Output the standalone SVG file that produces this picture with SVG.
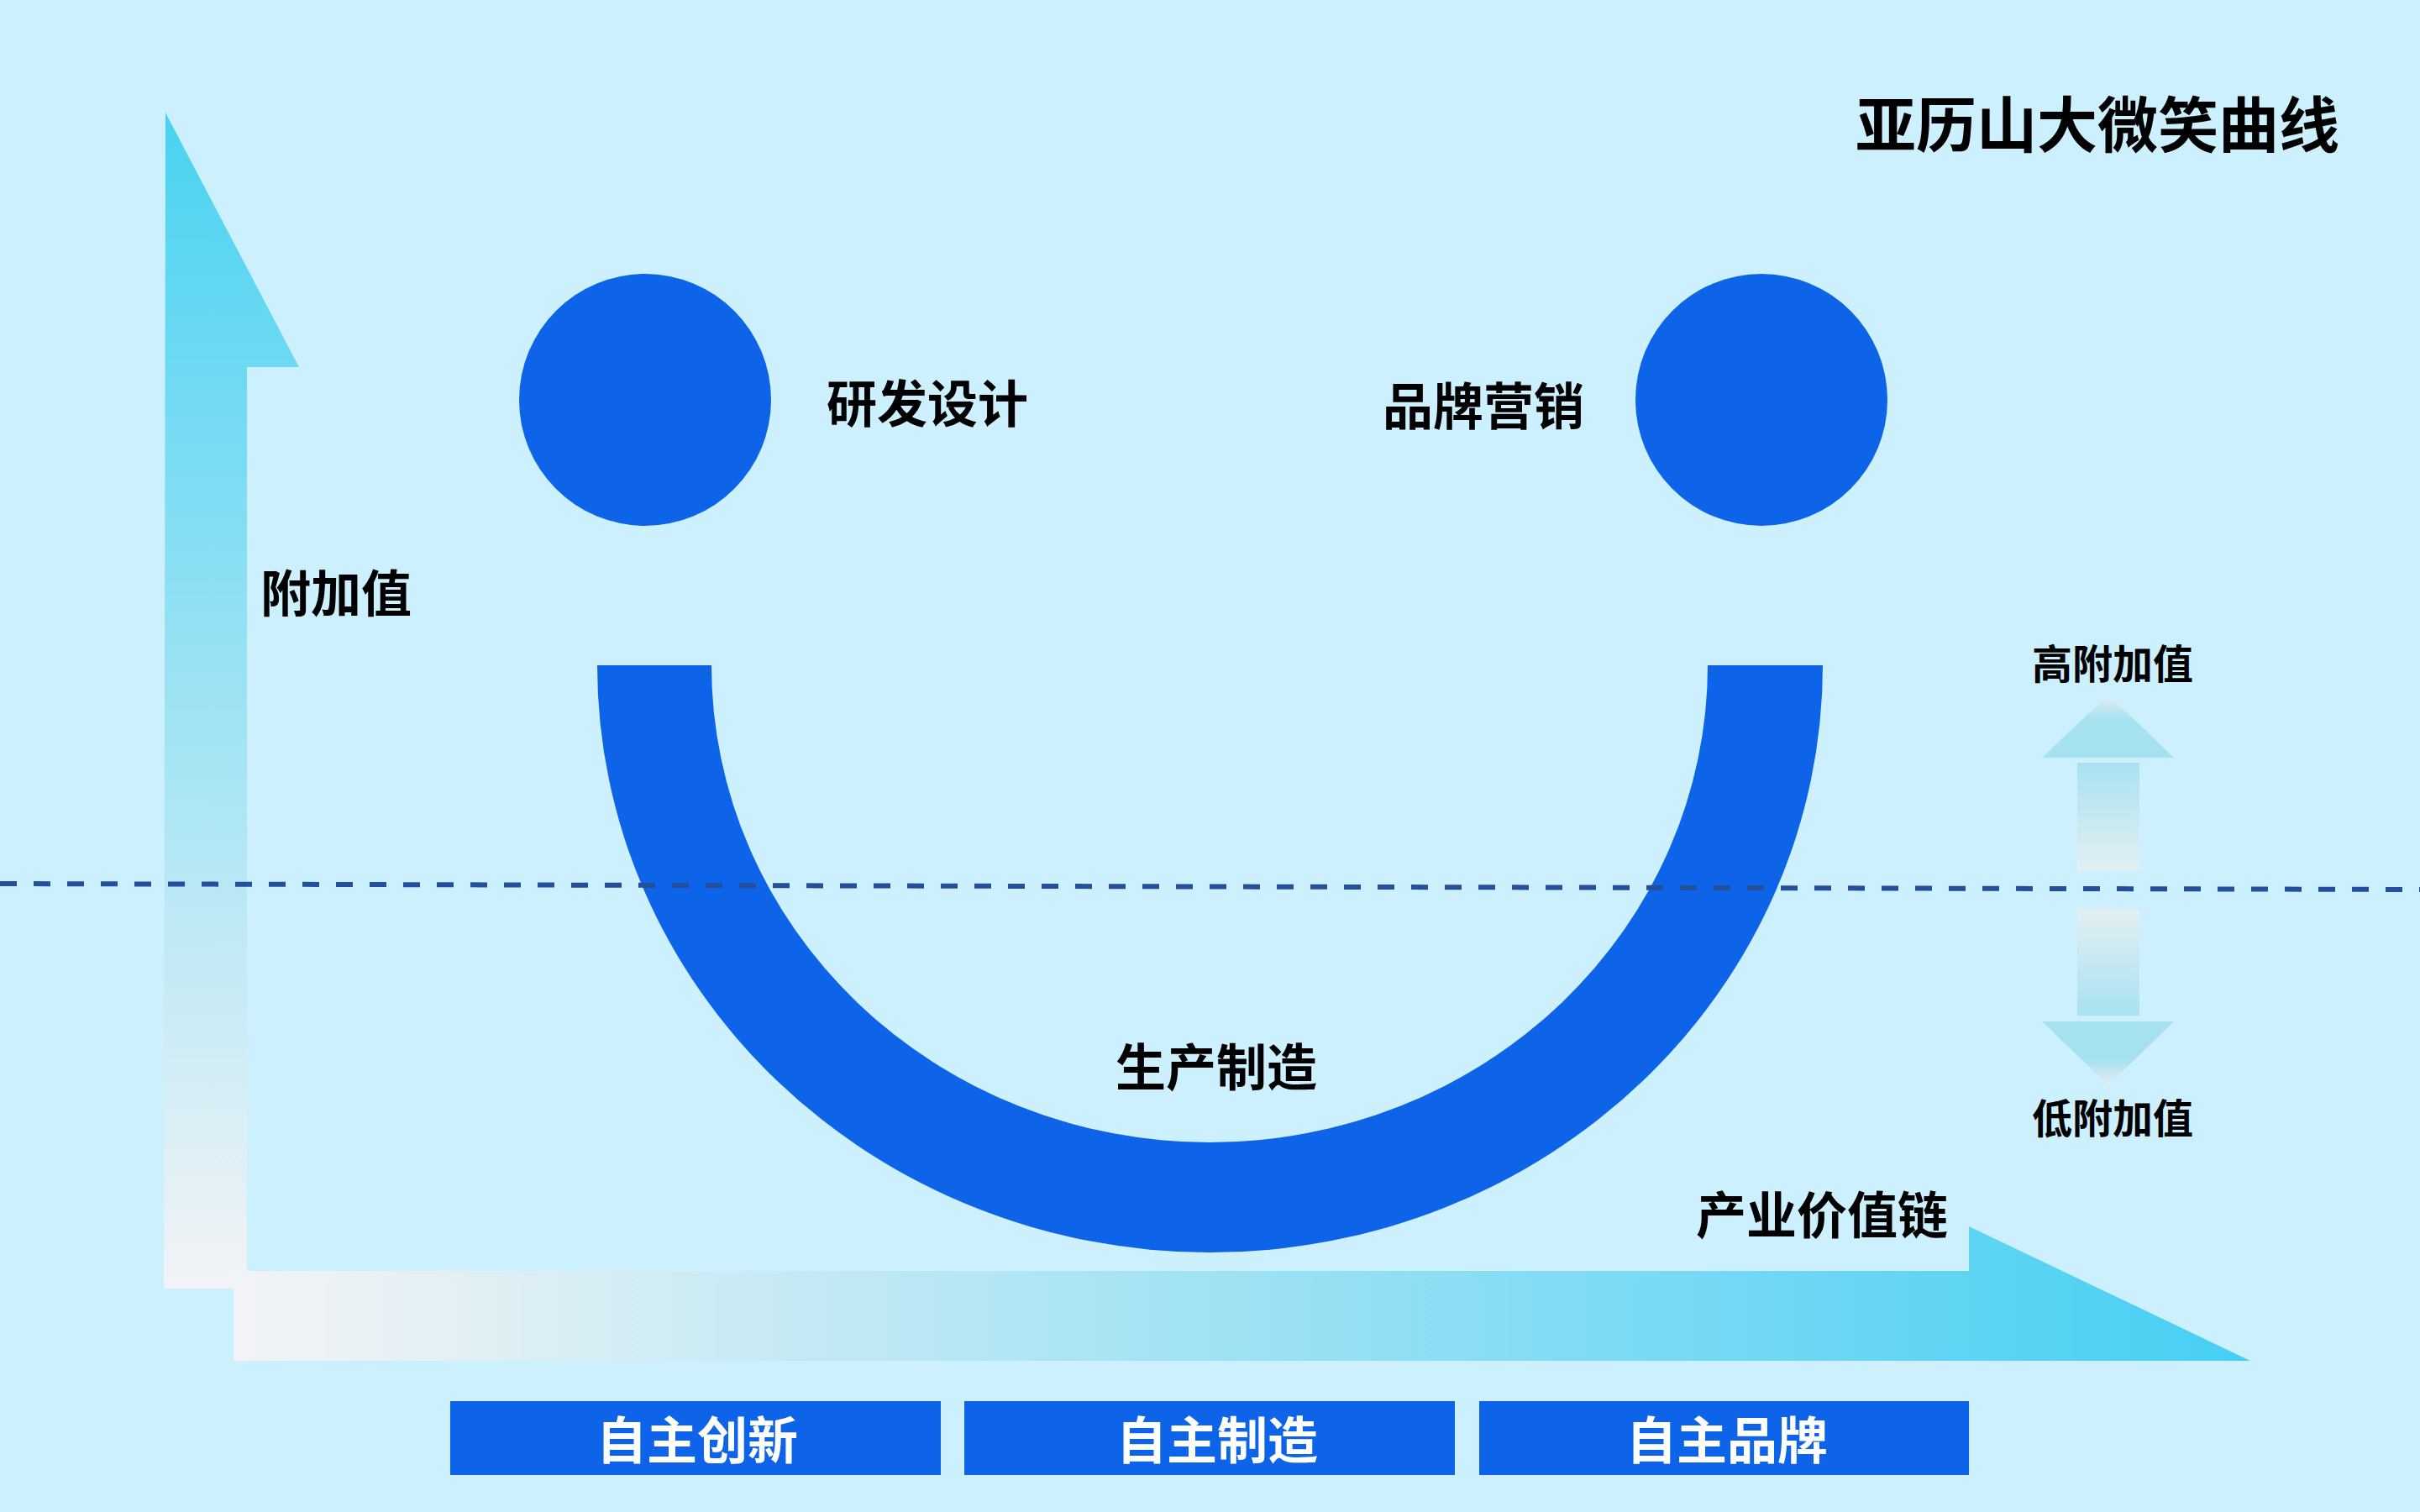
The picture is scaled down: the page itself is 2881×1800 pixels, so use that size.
<svg xmlns="http://www.w3.org/2000/svg" width="2881" height="1800" viewBox="0 0 2881 1800">
<defs>
<linearGradient id="gV" gradientUnits="userSpaceOnUse" x1="0" y1="134" x2="0" y2="1534">
<stop offset="0" stop-color="#49d2f1"/>
<stop offset="1" stop-color="#f2f3f6"/>
</linearGradient>
<linearGradient id="gH" gradientUnits="userSpaceOnUse" x1="278" y1="0" x2="2679" y2="0">
<stop offset="0" stop-color="#f2f3f6"/>
<stop offset="0.1" stop-color="#e4f0f4"/>
<stop offset="1" stop-color="#46cff3"/>
</linearGradient>
<linearGradient id="gTriUp" gradientUnits="userSpaceOnUse" x1="0" y1="827" x2="0" y2="902">
<stop offset="0" stop-color="#e3eef2"/>
<stop offset="0.4" stop-color="#a6e1f0"/>
<stop offset="1" stop-color="#a6e1f0"/>
</linearGradient>
<linearGradient id="gTriDn" gradientUnits="userSpaceOnUse" x1="0" y1="1292" x2="0" y2="1216">
<stop offset="0" stop-color="#e3eef2"/>
<stop offset="0.4" stop-color="#a6e1f0"/>
<stop offset="1" stop-color="#a6e1f0"/>
</linearGradient>
<linearGradient id="gRectUp" gradientUnits="userSpaceOnUse" x1="0" y1="908" x2="0" y2="1036">
<stop offset="0" stop-color="#a8e2f1"/>
<stop offset="1" stop-color="#e3eff2"/>
</linearGradient>
<linearGradient id="gRectDn" gradientUnits="userSpaceOnUse" x1="0" y1="1082" x2="0" y2="1209">
<stop offset="0" stop-color="#e3eff2"/>
<stop offset="1" stop-color="#a8e2f1"/>
</linearGradient>
<style>
.lbl{font-family:"Noto Sans CJK SC","Noto Sans",sans-serif;font-weight:700;fill:#000;text-anchor:middle;}
.big{font-size:60px;}
.title{font-size:72px;}
.small{font-size:48px;}
.boxtxt{font-family:"Noto Sans CJK SC","Noto Sans",sans-serif;font-weight:700;font-size:60px;fill:#ffffff;text-anchor:middle;}
.blue{fill:#0e64e8;}
.dash{stroke:#244f9b;stroke-width:6;stroke-dasharray:20 20;fill:none;}
</style>
</defs>
<rect x="0" y="0" width="2881" height="1800" fill="#cdf0fe"/>

<g id="axes">
<path d="M195 1534 L197 134 L356 437 L294 437 L294 1534 Z" fill="url(#gV)"/>
<path d="M278 1513 L2344 1513 L2344 1460 L2679 1620 L278 1620 Z" fill="url(#gH)"/>
<text class="lbl big" x="400" y="729">附加值</text>
<text class="lbl big" x="2169" y="1469">产业价值链</text>
</g>

<g id="node-rd">
<circle class="blue" cx="768" cy="476" r="150"/>
<text class="lbl big" x="1104" y="503">研发设计</text>
</g>

<g id="node-brand">
<circle class="blue" cx="2097" cy="476" r="150"/>
<text class="lbl big" x="1766" y="506">品牌营销</text>
</g>

<g id="node-smile">
<path class="blue" d="M711 792 A729.5 699 0 0 0 2170 792 L2033 792 A593 568 0 0 1 847 792 Z"/>
<text class="lbl big" x="1448" y="1293">生产制造</text>
</g>

<g id="title">
<text class="lbl title" x="2497" y="175">亚历山大微笑曲线</text>
</g>

<g id="value-indicator">
<polygon points="2510,827 2588,902 2431,902" fill="url(#gTriUp)"/>
<rect x="2473" y="908" width="74" height="128" fill="url(#gRectUp)"/>
<rect x="2473" y="1082" width="74" height="127" fill="url(#gRectDn)"/>
<polygon points="2431,1216 2588,1216 2510,1292" fill="url(#gTriDn)"/>
<text class="lbl small" x="2515" y="808">高附加值</text>
<text class="lbl small" x="2515" y="1349">低附加值</text>
</g>

<g id="connectors">
<line class="dash" x1="0" y1="1052" x2="2881" y2="1059"/>
</g>

<g id="box-1">
<rect class="blue" x="536" y="1668" width="584" height="88"/>
<text class="boxtxt" x="830" y="1737">自主创新</text>
</g>
<g id="box-2">
<rect class="blue" x="1148" y="1668" width="584" height="88"/>
<text class="boxtxt" x="1449" y="1737">自主制造</text>
</g>
<g id="box-3">
<rect class="blue" x="1761" y="1668" width="583" height="88"/>
<text class="boxtxt" x="2056" y="1737">自主品牌</text>
</g>
</svg>
